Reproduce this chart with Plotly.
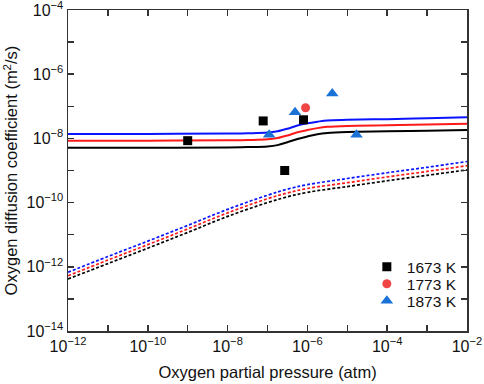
import numpy as np
import plotly.graph_objects as go

# ---- data ----
# experimental points (pO2 in atm, D in m^2/s)
p_1673 = [1e-9, 7.8e-8, 8.0e-7, 2.7e-7]
d_1673 = [8.5e-9, 3.5e-8, 3.8e-8, 1.0e-9]
p_1773 = [9.0e-7]
d_1773 = [9.0e-8]
p_1873 = [1.1e-7, 4.9e-7, 4.2e-6, 1.7e-5]
d_1873 = [1.3e-8, 6.5e-8, 2.5e-7, 1.3e-8]

# model curves (log10 values)
solid_logp = [-12, -10, -8, -7.5, -7, -6.75, -6.5, -6.25, -6, -5.75, -5.5, -5, -4, -3, -2]
solid_1673 = [-8.29, -8.29, -8.28, -8.27, -8.25, -8.21, -8.12, -8.02, -7.94, -7.87, -7.83, -7.80, -7.78, -7.76, -7.74]
solid_1773 = [-8.07, -8.07, -8.06, -8.05, -8.03, -7.99, -7.91, -7.81, -7.74, -7.68, -7.64, -7.61, -7.59, -7.57, -7.54]
solid_1873 = [-7.86, -7.86, -7.85, -7.84, -7.82, -7.78, -7.70, -7.60, -7.53, -7.48, -7.44, -7.42, -7.40, -7.37, -7.34]

dash_logp = [-12, -11, -10, -9, -8, -7, -6.5, -6, -5, -4, -3, -2]
dash_1673 = [-12.38, -11.90, -11.42, -10.93, -10.43, -10.00, -9.82, -9.68, -9.50, -9.32, -9.15, -8.98]
dash_1773 = [-12.28, -11.79, -11.31, -10.82, -10.32, -9.88, -9.70, -9.56, -9.38, -9.20, -9.03, -8.85]
dash_1873 = [-12.17, -11.68, -11.20, -10.71, -10.21, -9.77, -9.58, -9.44, -9.25, -9.07, -8.90, -8.72]

x_tick_exp = [-12, -11, -10, -9, -8, -7, -6, -5, -4, -3, -2]
y_tick_exp = [-14, -13, -12, -11, -10, -9, -8, -7, -6, -5, -4]

BLACK = "#000000"
RED_L = "#ff1a1a"
BLUE_L = "#0a14ff"
RED_M = "#f04545"
BLUE_M = "#1a72d6"
FONT = "Liberation Sans, Arial"

fig = go.Figure()

def p(v):
    return [10.0 ** a for a in v]

for ys, col in [(dash_1673, BLACK), (dash_1773, RED_L), (dash_1873, BLUE_L)]:
    fig.add_trace(go.Scatter(x=p(dash_logp), y=p(ys), mode="lines", showlegend=False,
                             line=dict(color=col, width=1.7, dash="3px,2px"), line_shape="spline",
                             hoverinfo="skip"))
for ys, col in [(solid_1673, BLACK), (solid_1773, RED_L), (solid_1873, BLUE_L)]:
    fig.add_trace(go.Scatter(x=p(solid_logp), y=p(ys), mode="lines", showlegend=False,
                             line=dict(color=col, width=2), line_shape="spline",
                             hoverinfo="skip"))

fig.add_trace(go.Scatter(x=p_1673, y=d_1673, mode="markers", name="1673 K", legend="legend",
                         marker=dict(symbol="square", size=9, color=BLACK)))
fig.add_trace(go.Scatter(x=p_1773, y=d_1773, mode="markers", name="1773 K", legend="legend2",
                         marker=dict(symbol="circle", size=9, color=RED_M)))
fig.add_trace(go.Scatter(x=p_1873, y=d_1873, mode="markers", name="1873 K", legend="legend3",
                         marker=dict(symbol="triangle-up", size=11, color=BLUE_M)))

def ticktext(exps):
    return [("10<sup>\u2212%d</sup>" % (-e)) if e % 2 == 0 else "" for e in exps]

axis_common = dict(type="log", showgrid=False, zeroline=False, showline=True,
                   linecolor="#333333", linewidth=1.5, mirror="ticks", automargin=False,
                   ticklabeloverflow="allow",
                   ticks="inside", ticklen=6, tickwidth=1.5, tickcolor="#333333",
                   tickfont=dict(family=FONT, size=16, color="#111111"))

fig.update_xaxes(**axis_common, range=[-12, -2],
                 tickvals=p(x_tick_exp), ticktext=ticktext(x_tick_exp),
                 title=dict(text="Oxygen partial pressure (atm)", standoff=12,
                            font=dict(family=FONT, size=16.5, color="#111111")))
fig.update_yaxes(**axis_common, range=[-14, -4],
                 tickvals=p(y_tick_exp), ticktext=ticktext(y_tick_exp),
                 title=dict(text="Oxygen diffusion coefficient (m<sup>2</sup>/s)", standoff=4,
                            font=dict(family=FONT, size=16.5, color="#111111")))

leg = dict(xanchor="left", yanchor="middle", bgcolor="rgba(0,0,0,0)", itemwidth=30,
           font=dict(family=FONT, size=15.5, color="#111111"))
fig.update_layout(
    width=484, height=384,
    margin=dict(l=68, r=17, t=10, b=53),
    plot_bgcolor="white", paper_bgcolor="white",
    hovermode=False,
    legend=dict(leg, x=0.749, y=0.199),
    legend2=dict(leg, x=0.749, y=0.146),
    legend3=dict(leg, x=0.749, y=0.093),
)

fig.write_html("out.html", config={"displayModeBar": False, "staticPlot": True},
               post_script="document.body.style.margin='0';document.body.style.overflow='hidden';")
